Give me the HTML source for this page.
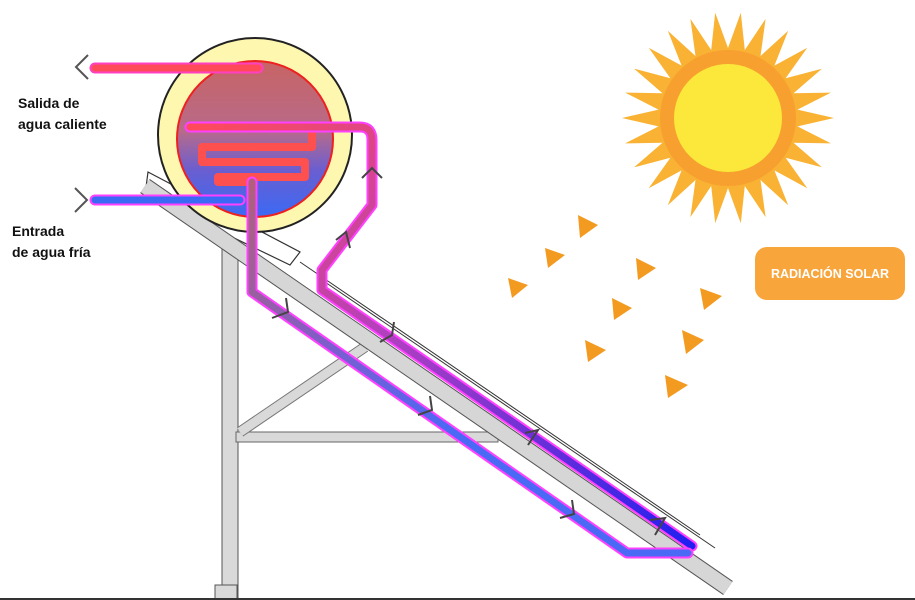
<!DOCTYPE html>
<html><head><meta charset="utf-8"><style>
html,body{margin:0;padding:0;background:#fff;}
svg{display:block;}
text{font-family:"Liberation Sans",sans-serif;}
</style></head><body>
<svg width="915" height="600" viewBox="0 0 915 600">
<defs>
<linearGradient id="tankg" x1="0" y1="0" x2="0" y2="1">
<stop offset="0" stop-color="#c86464"/><stop offset="0.45" stop-color="#b86a8a"/><stop offset="0.7" stop-color="#6a5ed0"/><stop offset="1" stop-color="#3a6af5"/>
</linearGradient>
<linearGradient id="hotg" x1="0" y1="0" x2="1" y2="1">
<stop offset="0" stop-color="#ff4a5a"/><stop offset="0.45" stop-color="#b040c0"/><stop offset="1" stop-color="#2020f0"/>
</linearGradient>
<linearGradient id="coldg" gradientUnits="userSpaceOnUse" x1="252" y1="182" x2="690" y2="553">
<stop offset="0" stop-color="#b0607a"/><stop offset="0.3" stop-color="#7a5ed0"/><stop offset="0.55" stop-color="#4a6af5"/><stop offset="1" stop-color="#4a6af5"/>
</linearGradient>
</defs>
<g>
<rect x="222" y="240" width="16" height="360" fill="#d9d9d9" stroke="#555" stroke-width="1"/>
<rect x="236" y="432" width="262" height="10" fill="#d9d9d9" stroke="#666" stroke-width="1"/>
<line x1="240" y1="432" x2="365" y2="347" stroke="#777" stroke-width="11"/>
<line x1="240" y1="432" x2="365" y2="347" stroke="#d9d9d9" stroke-width="9"/>
<polygon points="148,172 300,252 290,265 145,195" fill="#fff" stroke="#333" stroke-width="1.2"/>
<line x1="145" y1="186" x2="728" y2="588" stroke="#555" stroke-width="17"/>
<line x1="145" y1="186" x2="728" y2="588" stroke="#d6d6d6" stroke-width="15"/>
<line x1="325" y1="282" x2="715" y2="548" stroke="#333" stroke-width="1"/>
<line x1="300" y1="262" x2="700" y2="535" stroke="#333" stroke-width="1"/>
<rect x="215" y="585" width="22" height="15" fill="#d9d9d9" stroke="#555"/>
<line x1="0" y1="599" x2="915" y2="599" stroke="#333" stroke-width="2"/>
</g>
<g>
<circle cx="255" cy="135" r="97" fill="#fdf7b0" stroke="#222" stroke-width="2"/>
<circle cx="255" cy="139" r="78" fill="url(#tankg)" stroke="#ee2020" stroke-width="2"/>
</g>
<g fill="none" stroke-linejoin="round" stroke-linecap="round">
<path d="M95,68 H258" stroke="#ff40c0" stroke-width="11"/>
<path d="M95,68 H258" stroke="#ff4a5a" stroke-width="7"/>
<path d="M95,200 H240" stroke="#ff40ff" stroke-width="11"/>
<path d="M95,200 H240" stroke="#3a6af5" stroke-width="7"/>
<path d="M190,127 H312 M312,127 V147 H202 V162 H305 V177 H218 V182 H252" stroke="#ff5050" stroke-width="8"/>
<path d="M190,127 H360 Q372,127 372,140 V205 L322,270 V290 L692,546" stroke="#ff40ff" stroke-width="11"/>
<path d="M190,127 H360 Q372,127 372,140 V205 L322,270 V290 L692,546" stroke="url(#hotg)" stroke-width="7"/>
<path d="M252,182 V292 L627,553 H688" stroke="#ff40ff" stroke-width="11"/>
<path d="M252,182 V292 L627,553 H688" stroke="url(#coldg)" stroke-width="7"/>
</g>
<g stroke="#444" stroke-width="2" fill="none">
<path d="M362,178 L372,168 L382,178"/><path d="M336,240 L346,232 L350,248"/>
<path d="M272,318 L288,312 L286,298"/><path d="M380,342 L392,335 L394,322"/>
<path d="M418,415 L432,410 L430,396"/><path d="M525,433 L538,430 L528,445"/>
<path d="M560,518 L574,514 L572,500"/><path d="M650,520 L665,518 L655,535"/>
</g>
<g stroke="#555" stroke-width="2" fill="none">
<path d="M88,55 L76,67 L88,79"/><path d="M75,188 L87,200 L75,212"/>
</g>
<text x="18" y="108" font-size="14" font-weight="bold" fill="#111">Salida de</text>
<text x="18" y="129" font-size="14" font-weight="bold" fill="#111">agua caliente</text>
<text x="12" y="236" font-size="14" font-weight="bold" fill="#111">Entrada</text>
<text x="12" y="257" font-size="14" font-weight="bold" fill="#111">de agua fría</text>
<g>
<polygon id="rays" fill="#f9b233"/>
<circle cx="728" cy="118" r="68" fill="#f7a030"/>
<circle cx="728" cy="118" r="54" fill="#fbe83a"/>
</g>
<g fill="#f39a20">
<polygon points="578,215 598,225 580,238"/><polygon points="545,248 565,255 548,268"/>
<polygon points="636,258 656,268 638,280"/><polygon points="508,278 528,285 512,298"/>
<polygon points="612,298 632,308 614,320"/><polygon points="700,288 722,296 704,310"/>
<polygon points="585,340 606,350 588,362"/><polygon points="682,330 704,340 686,354"/>
<polygon points="665,375 688,385 668,398"/>
</g>
<rect x="755" y="247" width="150" height="53" rx="12" fill="#f8a53c"/>
<text x="830" y="278" font-size="12.5" font-weight="bold" fill="#fff" text-anchor="middle">RADIACIÓN SOLAR</text>
</svg>
<script>
var pts=[],n=26;
for(var i=0;i<n*2;i++){var a=i*Math.PI/n;var r=i%2?70:106;pts.push((728+r*Math.cos(a)).toFixed(1)+','+(118+r*Math.sin(a)).toFixed(1));}
document.getElementById('rays').setAttribute('points',pts.join(' '));
</script>
</body></html>
